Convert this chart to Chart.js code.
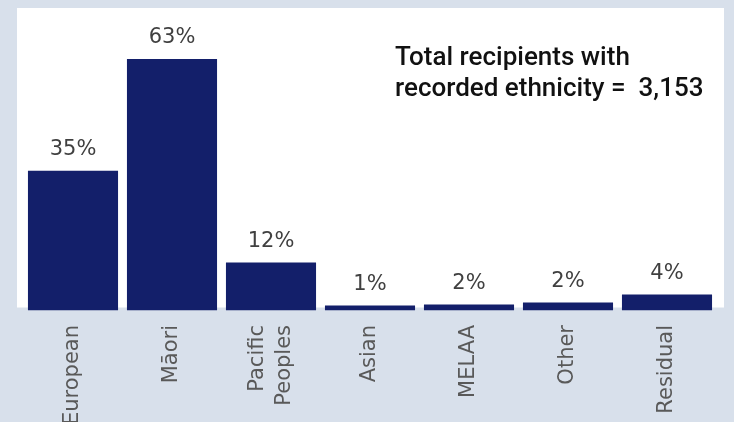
<!DOCTYPE html>
<html>
<head>
<meta charset="utf-8">
<script src="https://cdn.jsdelivr.net/npm/chart.js@4.4.1/dist/chart.umd.min.js"></script>
<style>
    body { margin: 0; background: #d8e0eb; }
    #wrap { width: 734px; height: 422px; }
</style>
</head>
<body>
<div id="wrap"><canvas id="myChart" width="734" height="422"></canvas></div>
<script>
// Dados do gráfico
var categories = ['European', 'Māori', ['Pacific', 'Peoples'], 'Asian', 'MELAA', 'Other', 'Residual'];
var percentValues = [35, 63, 12, 1.25, 1.5, 2.0, 4.0];
var percentLabels = ['35%', '63%', '12%', '1%', '2%', '2%', '4%'];
var totalLines = ['Total recipients with', 'recorded ethnicity =  3,153'];

// Fundo: cinza-azulado fora, painel branco atrás das barras
var panelPlugin = {
    id: 'panel',
    beforeDraw: function (chart) {
        var ctx = chart.ctx;
        var area = chart.chartArea;
        ctx.save();
        ctx.fillStyle = '#d8e0eb';
        ctx.fillRect(0, 0, chart.width, chart.height);
        ctx.fillStyle = '#ffffff';
        ctx.fillRect(area.left - 6.5, 8, area.right - area.left + 14, area.bottom - 3 - 8);
        ctx.restore();
    }
};

// Rótulos de percentagem em cima das barras
var valueLabelPlugin = {
    id: 'valueLabels',
    afterDatasetsDraw: function (chart) {
        var ctx = chart.ctx;
        var meta = chart.getDatasetMeta(0);
        ctx.save();
        ctx.font = '21px "DejaVu Sans"';
        ctx.fillStyle = '#404040';
        ctx.textAlign = 'center';
        ctx.textBaseline = 'alphabetic';
        meta.data.forEach(function (bar, i) {
            ctx.fillText(percentLabels[i], bar.x, bar.y - 16);
        });
        ctx.restore();
    }
};

// Rótulos do eixo x na vertical (linhas múltiplas centradas na barra)
var xLabelPlugin = {
    id: 'xLabels',
    afterDraw: function (chart) {
        var ctx = chart.ctx;
        var scale = chart.scales.x;
        var lineHeight = 27;
        ctx.save();
        ctx.font = '21px "DejaVu Sans"';
        ctx.fillStyle = '#595959';
        ctx.textAlign = 'right';
        ctx.textBaseline = 'middle';
        categories.forEach(function (label, i) {
            var lines = Array.isArray(label) ? label : [label];
            var x = scale.getPixelForTick(i);
            var y = scale.top + 14.5;
            lines.forEach(function (line, j) {
                var offset = (j - (lines.length - 1) / 2) * lineHeight;
                ctx.save();
                ctx.translate(x + offset, y);
                ctx.rotate(-Math.PI / 2);
                ctx.fillText(line, 0, 0);
                ctx.restore();
            });
        });
        ctx.restore();
    }
};

// Caixa de texto com o total
var totalPlugin = {
    id: 'totalText',
    afterDraw: function (chart) {
        var ctx = chart.ctx;
        ctx.save();
        ctx.font = '500 26px Roboto';
        ctx.fillStyle = '#111111';
        ctx.textAlign = 'left';
        ctx.fillText(totalLines[0], 395, 65);
        ctx.fillText(totalLines[1], 395, 96);
        ctx.restore();
    }
};

var ctx = document.getElementById('myChart').getContext('2d');
var barChart = new Chart(ctx, {
    type: 'bar',
    data: {
        labels: categories,
        datasets: [{
            data: percentValues,
            backgroundColor: '#131f6a',
            barPercentage: 0.91,
            categoryPercentage: 1.0
        }]
    },
    options: {
        responsive: false,
        animation: false,
        layout: {
            padding: { left: 23.5, right: 17.5, top: 11, bottom: 0 }
        },
        plugins: {
            legend: { display: false },
            tooltip: { enabled: false }
        },
        scales: {
            x: {
                grid: { display: false },
                border: { display: false },
                ticks: { display: false },
                afterFit: function (scale) {
                    scale.height = 111.5;
                }
            },
            y: {
                display: false,
                min: 0,
                max: 75
            }
        }
    },
    plugins: [panelPlugin, valueLabelPlugin, xLabelPlugin, totalPlugin]
});
</script>
</body>
</html>
